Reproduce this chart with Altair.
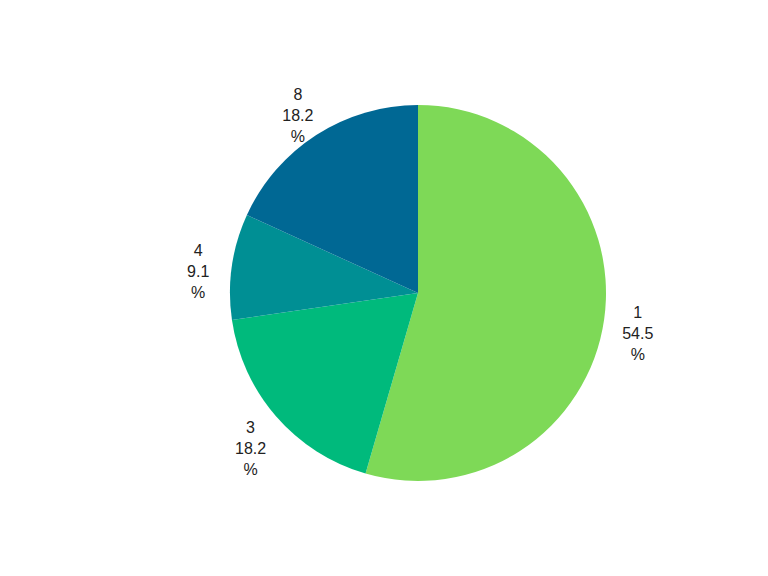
import altair as alt
import pandas as pd

categories = ["1", "3", "4", "8"]
values = [54.5, 18.2, 9.1, 18.2]
colors = ["#7ed957", "#00ba7c", "#008f94", "#006894"]

df = pd.DataFrame({
    "cat": categories,
    "value": values,
    "order": list(range(len(categories))),
})
df["label"] = [f"{c}\n{v}\n%" for c, v in zip(categories, values)]

cx, cy = 410, 285

base = alt.Chart(df).encode(
    theta=alt.Theta("value:Q", stack=True),
    order=alt.Order("order:Q"),
)

arcs = base.mark_arc(outerRadius=188, stroke=None).encode(
    color=alt.Color("cat:N", scale=alt.Scale(domain=categories, range=colors), legend=None),
    x=alt.value(cx),
    y=alt.value(cy),
)

texts = base.mark_text(
    radius=222, lineBreak="\n", fontSize=16, font="Liberation Sans",
    color="#222222", align="center", baseline="middle", lineHeight=21, dy=-11,
).encode(
    text="label:N",
    x=alt.value(cx),
    y=alt.value(cy),
)

chart = (arcs + texts).properties(
    width=752, height=560, padding=0, autosize="none",
    background="white",
).configure_view(stroke=None)

chart.save("out.html", embed_options={"renderer": "svg", "actions": False})
